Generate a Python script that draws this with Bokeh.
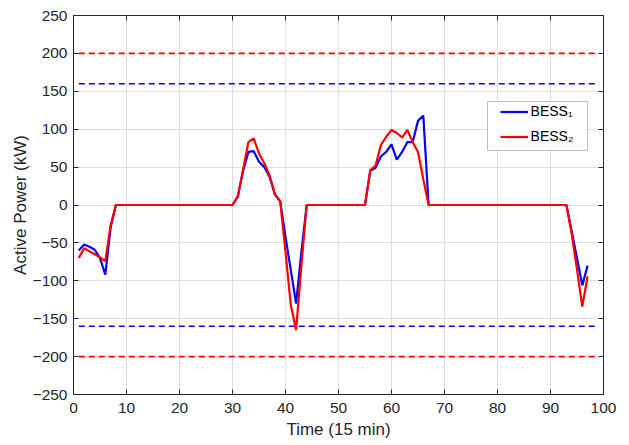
from bokeh.plotting import figure
from bokeh.models import (Legend, LegendItem, BoxAnnotation, LinearAxis,
                          FixedTicker, Range1d, CustomLabelingPolicy)
from bokeh.embed import file_html
from bokeh.resources import INLINE

# Time steps (15 min resolution)
t = list(range(1, 98))

# Active power of each battery energy storage system (kW)
bess1 = [
    -60, -52, -55, -59, -70, -92, -30, 0,
    0, 0, 0, 0, 0, 0, 0, 0, 0, 0, 0, 0, 0, 0, 0, 0, 0, 0, 0, 0, 0, 0,
    11, 45, 70, 71, 57, 50, 37, 14, 5, -42, -86, -130, -62,
    0, 0, 0, 0, 0, 0, 0, 0, 0, 0, 0, 0,
    45, 49, 64, 70, 80, 60, 70, 83, 83, 111, 118,
    0, 0, 0, 0, 0, 0, 0, 0, 0, 0, 0, 0, 0, 0, 0, 0, 0, 0, 0, 0, 0, 0,
    0, 0, 0, 0, 0,
    -35, -70, -106, -80,
]
bess2 = [
    -70, -57, -61, -65, -69, -74, -27, 0,
    0, 0, 0, 0, 0, 0, 0, 0, 0, 0, 0, 0, 0, 0, 0, 0, 0, 0, 0, 0, 0, 0,
    11, 47, 83, 88, 68, 55, 39, 14, 5, -62, -132, -165, -80,
    0, 0, 0, 0, 0, 0, 0, 0, 0, 0, 0, 0,
    46, 52, 79, 90, 99, 95, 89, 99, 83, 70, 34,
    0, 0, 0, 0, 0, 0, 0, 0, 0, 0, 0, 0, 0, 0, 0, 0, 0, 0, 0, 0, 0, 0,
    0, 0, 0, 0, 0,
    -38, -85, -134, -94,
]

# Power limits of each unit (kW)
limit_t = [1, 99]
bess1_limit = 160
bess2_limit = 200

x_ticks = [0, 10, 20, 30, 40, 50, 60, 70, 80, 90, 100]
y_ticks = [-250, -200, -150, -100, -50, 0, 50, 100, 150, 200, 250]

BLUE = "#0000ff"
RED = "#ff0000"
INK = "#262626"
FONT = "Liberation Sans"

p = figure(width=629, height=445, x_range=Range1d(0, 100),
           y_range=Range1d(-250, 250), output_backend="svg",
           toolbar_location=None,
           min_border_left=73, min_border_right=26,
           min_border_top=15, min_border_bottom=51)

# limit lines
for lim, col in ((bess1_limit, BLUE), (bess2_limit, RED)):
    p.line(limit_t, [lim, lim], line_color=col, line_width=1.6,
           line_dash="6 4")
    p.line(limit_t, [-lim, -lim], line_color=col, line_width=1.6,
           line_dash="6 4")

r1 = p.line(t, bess1, line_color=BLUE, line_width=2.2)
r2 = p.line(t, bess2, line_color=RED, line_width=2.2)

# axes styling (box with inward ticks on all sides)
p.add_layout(LinearAxis(), "right")
p.add_layout(LinearAxis(), "above")
for ax in p.xaxis:
    ax.ticker = FixedTicker(ticks=x_ticks)
for ax in p.yaxis:
    ax.ticker = FixedTicker(ticks=y_ticks)
for ax in p.axis:
    ax.axis_line_color = INK
    ax.major_tick_line_color = INK
    ax.major_tick_in = 5
    ax.major_tick_out = 0
    ax.minor_tick_line_color = None
    ax.major_label_text_font = FONT
    ax.major_label_text_font_size = "15.5px"
    ax.major_label_text_color = INK
    ax.axis_label_text_font = FONT
    ax.axis_label_text_font_size = "17px"
    ax.axis_label_text_font_style = "normal"
    ax.axis_label_text_color = INK

# the top and right axes only carry tick marks
no_labels = CustomLabelingPolicy(code="""
    for (const i of indices)
        indices.unset(i)
    return indices
""")
for ax in (p.right[0], p.above[0]):
    ax.major_label_policy = no_labels
    ax.major_label_text_font_size = "0px"
    ax.major_label_standoff = 0

p.below[0].axis_label = "Time (15 min)"
p.below[0].major_label_standoff = 8
p.below[0].axis_label_standoff = 4
p.left[0].axis_label = "Active Power (kW)"
p.left[0].major_label_standoff = 6
p.left[0].axis_label_standoff = 0

p.xgrid.grid_line_color = "#dedede"
p.ygrid.grid_line_color = "#dedede"
p.outline_line_color = INK

# legend frame
p.add_layout(BoxAnnotation(left=414, right=514, top=293, bottom=244,
                           left_units="screen", right_units="screen",
                           top_units="screen", bottom_units="screen",
                           fill_color="white", fill_alpha=1.0,
                           line_color=INK, line_width=1))

legend = Legend(items=[LegendItem(label="BESS\u2081", renderers=[r1]),
                       LegendItem(label="BESS\u2082", renderers=[r2])],
                location=(426.6, 249.8), padding=0, spacing=9, margin=0,
                glyph_width=28, glyph_height=15, label_height=15,
                label_standoff=3, label_text_font=FONT,
                label_text_font_size="14px", label_text_color="black",
                border_line_alpha=0, background_fill_alpha=0)
p.add_layout(legend)

open("out.html", "w").write(file_html(p, INLINE))
